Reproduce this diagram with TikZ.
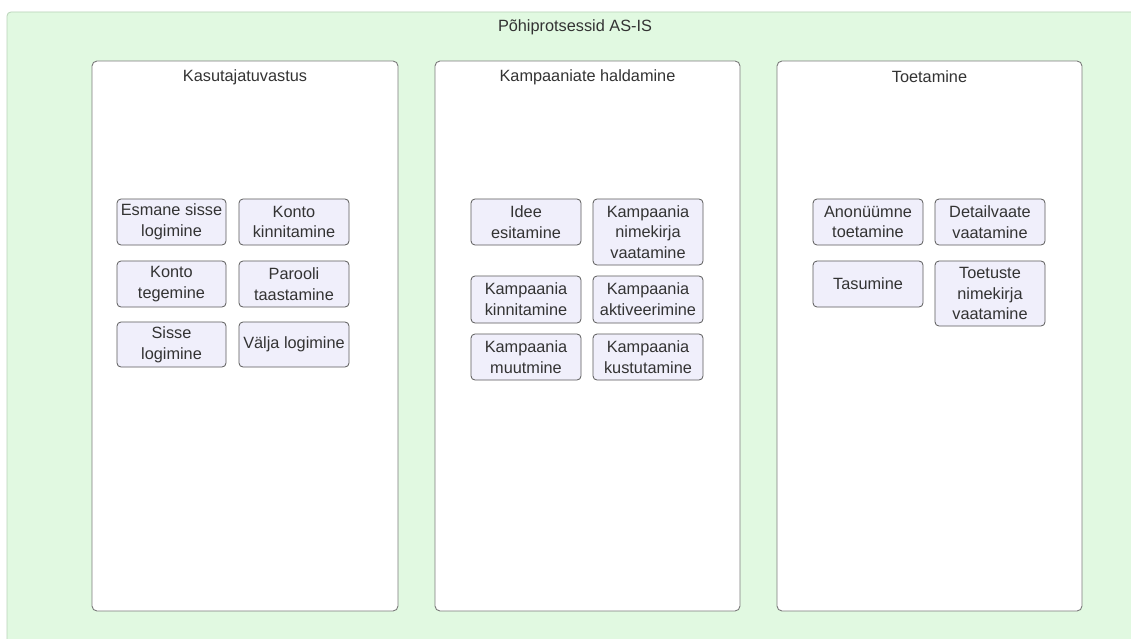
\documentclass[tikz,border=0pt]{standalone}
\usepackage{fontspec}
\setmainfont{Liberation Sans}
\definecolor{bggreen}{HTML}{E1F9E1}
\definecolor{bgline}{HTML}{B9D3B9}
\definecolor{panelline}{HTML}{7A7A7A}
\definecolor{boxfill}{HTML}{F0EFFB}
\definecolor{boxline}{HTML}{5A5A5A}
\definecolor{txt}{HTML}{333333}
\tikzset{
  pool/.style={draw=bgline, fill=bggreen, line width=0.8pt, rounded corners=4pt},
  lane/.style={draw=panelline, fill=white, line width=0.9pt, rounded corners=5pt},
  task/.style={draw=boxline, fill=boxfill, line width=0.8pt, rounded corners=4pt},
  heading/.style={text=txt, font=\fontsize{16.3}{20}\selectfont},
  tasktext/.style={text=txt, font=\fontsize{16.3}{20.8}\selectfont, align=center}
}
\newcommand{\taskbox}[6]{% name, x1, y1, x2, y2, text
  \draw[task] (#2,#3) rectangle (#4,#5);
  \node[tasktext] (#1) at ({(#2+#4)/2},{(#3+#5)/2}) {#6};
}
\begin{document}
\begin{tikzpicture}[x=1pt,y=-1pt]
\clip (0,0) rectangle (1131,639);
\fill[white] (0,0) rectangle (1131,639);
% outer pool
\draw[pool] (7,12) rectangle (1150,660);
\node[heading] (title) at (575,27) {Põhiprotsessid AS-IS};
% lanes
\draw[lane] (92,61) rectangle (398,611);
\node[heading] (l1) at (245,77) {Kasutajatuvastus};
\draw[lane] (435,61) rectangle (740,611);
\node[heading] (l2) at (587.5,77) {Kampaaniate haldamine};
\draw[lane] (777,61) rectangle (1082,611);
\node[heading] (l3) at (929.5,77) {Toetamine};
% Kasutajatuvastus
\taskbox{a1}{117}{199}{226}{245}{Esmane sisse\\logimine}
\taskbox{a2}{239}{199}{349}{245}{Konto\\kinnitamine}
\taskbox{a3}{117}{261}{226}{307}{Konto\\tegemine}
\taskbox{a4}{239}{261}{349}{307}{Parooli\\taastamine}
\taskbox{a5}{117}{322}{226}{367}{Sisse\\logimine}
\taskbox{a6}{239}{322}{349}{367}{Välja logimine}
% Kampaaniate haldamine
\taskbox{b1}{471}{199}{581}{245}{Idee\\esitamine}
\taskbox{b2}{593}{199}{703}{265}{Kampaania\\nimekirja\\vaatamine}
\taskbox{b3}{471}{276}{581}{323}{Kampaania\\kinnitamine}
\taskbox{b4}{593}{276}{703}{323}{Kampaania\\aktiveerimine}
\taskbox{b5}{471}{334}{581}{380}{Kampaania\\muutmine}
\taskbox{b6}{593}{334}{703}{380}{Kampaania\\kustutamine}
% Toetamine
\taskbox{c1}{813}{199}{923}{245}{Anonüümne\\toetamine}
\taskbox{c2}{935}{199}{1045}{245}{Detailvaate\\vaatamine}
\taskbox{c3}{813}{261}{923}{307}{Tasumine}
\taskbox{c4}{935}{261}{1045}{326}{Toetuste\\nimekirja\\vaatamine}
\end{tikzpicture}
\end{document}
